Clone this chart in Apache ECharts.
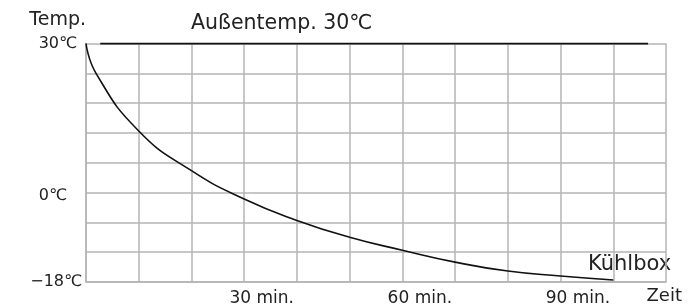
<!DOCTYPE html>
<html>
<head>
<meta charset="utf-8">
<script src="https://cdn.jsdelivr.net/npm/echarts@6/dist/echarts.min.js"></script>
<style>
html, body { margin: 0; padding: 0; background: #fff; }
#chart { width: 691px; height: 307px; }
</style>
</head>
<body>
<div id="chart"></div>
<script>
// x positions in grid steps (11 steps across the plot), temperatures in ℃
const coolX = [0, 0.19, 1, 2, 3, 4, 5, 6, 7, 8, 9, 10];
const coolT = [30, 24, 12.4, 4.4, -1.3, -5.6, -9.0, -11.6, -14.0, -15.8, -16.8, -17.6];
const outsideX = [0.27, 10.66];
const outsideT = [30, 30];
const xTickLabels = ["", "", "", "", "30 min.", "", "", "60 min.", "", "", "90 min.", ""];
const yTickLabels = { "30": "{a|30℃}", "0": "{b|0℃}", "-18": "{c|−18℃}" };

const font = "DejaVu Sans, sans-serif";
const chart = echarts.init(document.getElementById("chart"));

const option = {
    animation: false,
    grid: { left: 86, right: 25, top: 43.5, bottom: 23.5 },
    xAxis: {
        type: "value",
        min: 0,
        max: 11,
        interval: 1,
        name: "Zeit",
        nameLocation: "end",
        nameGap: 16,
        nameTextStyle: { color: "#222", fontSize: 18, fontFamily: font, align: "right", verticalAlign: "top", padding: [5, 0, 0, 0] },
        axisLine: { onZero: false, lineStyle: { color: "#b4b4b4", width: 1.5 } },
        axisTick: { show: false },
        splitLine: { lineStyle: { color: "#b4b4b4", width: 1.5 } },
        axisLabel: {
            color: "#222",
            fontSize: 17,
            fontFamily: font,
            align: "right",
            margin: 8,
            padding: [0, 3, 0, 0],
            formatter: (v) => xTickLabels[Math.round(v)] || ""
        }
    },
    yAxis: {
        type: "value",
        min: -18,
        max: 30,
        interval: 6,
        name: "Temp.",
        nameLocation: "end",
        nameGap: 14,
        nameTextStyle: { color: "#222", fontSize: 19, fontFamily: font, align: "right", verticalAlign: "bottom" },
        axisLine: { show: true, lineStyle: { color: "#b4b4b4", width: 1.5 } },
        axisTick: { show: false },
        splitLine: { lineStyle: { color: "#b4b4b4", width: 1.5 } },
        axisLabel: {
            color: "#222",
            fontSize: 16,
            fontFamily: font,
            margin: 4,
            formatter: (v) => yTickLabels[String(v)] || "",
            rich: {
                a: { color: "#222", fontSize: 16, fontFamily: font, padding: [0, 5, 0, 0] },
                b: { color: "#222", fontSize: 16, fontFamily: font, padding: [6, 15, 0, 0] },
                c: { color: "#222", fontSize: 16, fontFamily: font, padding: [0, 0, 0, 0] }
            }
        }
    },
    series: [
        {
            type: "line",
            data: outsideX.map((x, i) => [x, outsideT[i]]),
            symbol: "none",
            lineStyle: { color: "#111", width: 2 }
        },
        {
            type: "line",
            data: coolX.map((x, i) => [x, coolT[i]]),
            smooth: 0.5,
            symbol: "none",
            lineStyle: { color: "#111", width: 1.6 }
        }
    ],
    graphic: [
        { type: "text", left: 191, top: 13, style: { text: "Außentemp. 30℃", fill: "#222", fontSize: 20.5, fontFamily: font } },
        { type: "text", left: 588, top: 254, style: { text: "Kühlbox", fill: "#222", fontSize: 21, fontFamily: font } }
    ]
};

chart.setOption(option);
</script>
</body>
</html>
